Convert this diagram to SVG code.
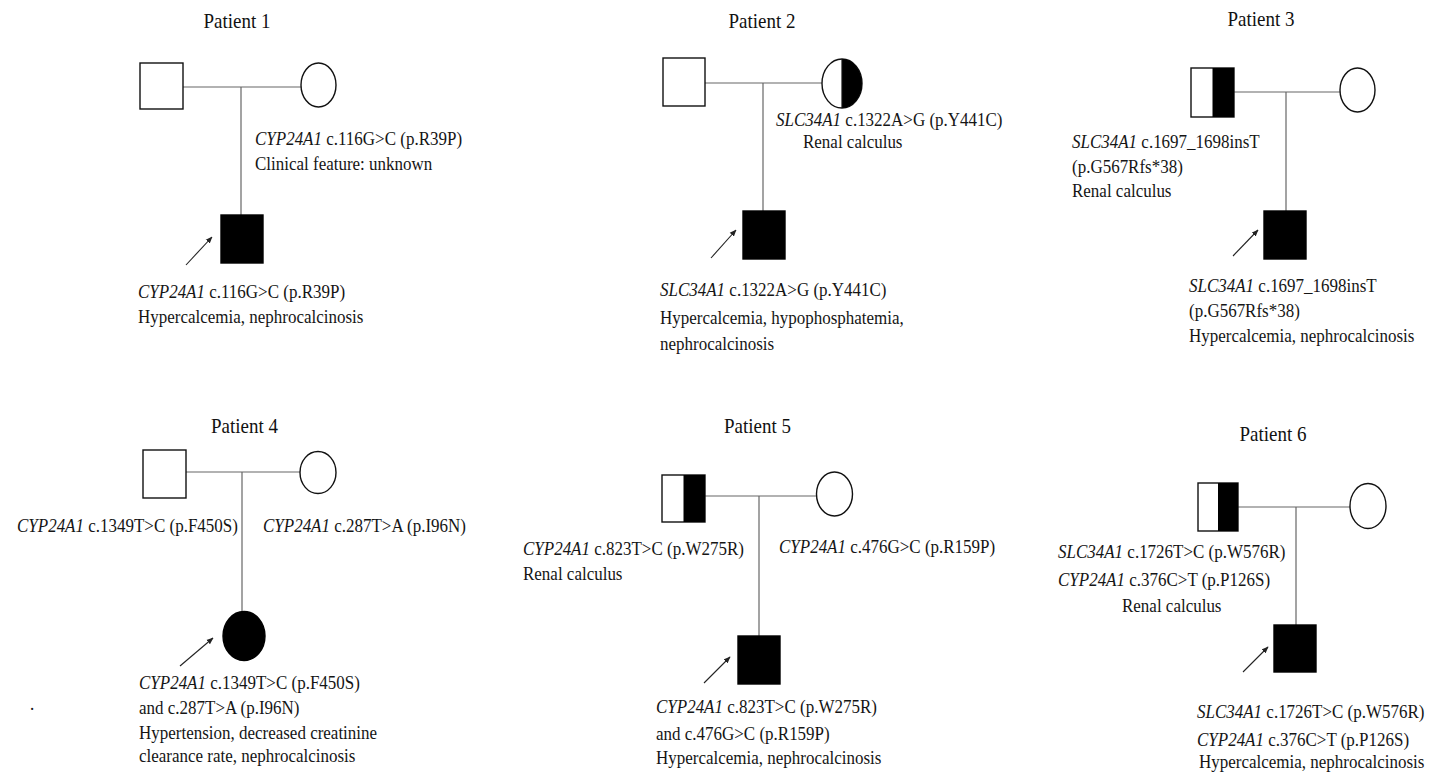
<svg xmlns="http://www.w3.org/2000/svg" width="1440" height="772" viewBox="0 0 1440 772">
  <style>
    .title { font-family: "Liberation Serif", "Times New Roman", serif; font-size: 19px; fill: #111; }
    .t { font-family: "Liberation Serif", "Times New Roman", serif; font-size: 17px; fill: #151515; }
    .gene { font-style: italic; }
    .open { fill: #fff; stroke: #111; stroke-width: 1.4; }
    .fill { fill: #000; stroke: #000; stroke-width: 1.4; }
    .half { fill: #000; stroke: none; }
    .link { stroke: #666; stroke-width: 1.2; fill: none; }
    .arrow { stroke: #222; stroke-width: 1.1; fill: none; marker-end: url(#head); }
  </style>
  <defs>
    <marker id="head" viewBox="0 0 10 10" refX="9" refY="5" markerWidth="7" markerHeight="7" orient="auto" markerUnits="userSpaceOnUse">
      <path d="M0,1 L10,5 L0,9 Z" fill="#222"/>
    </marker>
  </defs>
  <rect width="1440" height="772" fill="#fff"/>

  <!-- connectors: marriage lines, lines of descent, proband arrows -->
  <g id="connectors">
    <line class="link" x1="183" y1="87" x2="301" y2="87"/>
    <line class="link" x1="241" y1="87" x2="241" y2="215"/>
    <line class="arrow" x1="186" y1="265" x2="212" y2="237"/>

    <line class="link" x1="705" y1="83" x2="822" y2="83"/>
    <line class="link" x1="763" y1="83" x2="763" y2="211"/>
    <line class="arrow" x1="711" y1="258" x2="736" y2="230"/>

    <line class="link" x1="1234" y1="92" x2="1340" y2="92"/>
    <line class="link" x1="1286" y1="92" x2="1286" y2="211"/>
    <line class="arrow" x1="1233" y1="256" x2="1258" y2="230"/>

    <line class="link" x1="186" y1="472" x2="300" y2="472"/>
    <line class="link" x1="242" y1="472" x2="242" y2="612"/>
    <line class="arrow" x1="180" y1="666" x2="213" y2="638"/>

    <line class="link" x1="705" y1="496" x2="817" y2="496"/>
    <line class="link" x1="759" y1="496" x2="759" y2="636"/>
    <line class="arrow" x1="704" y1="683" x2="730" y2="657"/>

    <line class="link" x1="1238" y1="507" x2="1350" y2="507"/>
    <line class="link" x1="1296" y1="507" x2="1296" y2="625"/>
    <line class="arrow" x1="1243" y1="672" x2="1268" y2="647"/>
  </g>

  <!-- Patient 1 -->
  <g id="p1-title"><text class="title" text-anchor="middle" transform="translate(237,28) scale(1,1.15)">Patient 1</text></g>
  <g id="p1-father"><rect class="open" x="140" y="63" width="43" height="46"/></g>
  <g id="p1-mother">
    <ellipse class="open" cx="318.5" cy="85" rx="17.5" ry="22"/>
    <text class="t" transform="translate(255,145) scale(1,1.15)"><tspan class="gene">CYP24A1</tspan> c.116G&gt;C (p.R39P)</text>
    <text class="t" transform="translate(255,170) scale(1,1.15)">Clinical feature: unknown</text>
  </g>
  <g id="p1-proband">
    <rect class="fill" x="221" y="215" width="42" height="48"/>
    <text class="t" transform="translate(138,298) scale(1,1.15)"><tspan class="gene">CYP24A1</tspan> c.116G&gt;C (p.R39P)</text>
    <text class="t" transform="translate(138,323) scale(1,1.15)">Hypercalcemia, nephrocalcinosis</text>
  </g>

  <!-- Patient 2 -->
  <g id="p2-title"><text class="title" text-anchor="middle" transform="translate(762,28) scale(1,1.15)">Patient 2</text></g>
  <g id="p2-father"><rect class="open" x="663" y="58" width="42" height="48"/></g>
  <g id="p2-mother">
    <ellipse class="open" cx="842" cy="83.5" rx="20" ry="24.5"/>
    <path class="half" d="M842,59 A20,24.5 0 0 1 842,108 Z"/>
    <line x1="842" y1="59" x2="842" y2="108" stroke="#111" stroke-width="1.2"/>
    <text class="t" transform="translate(776,126) scale(1,1.15)"><tspan class="gene">SLC34A1</tspan> c.1322A&gt;G (p.Y441C)</text>
    <text class="t" transform="translate(803,148) scale(1,1.15)">Renal calculus</text>
  </g>
  <g id="p2-proband">
    <rect class="fill" x="743" y="211" width="42" height="48"/>
    <text class="t" transform="translate(660,296) scale(1,1.15)"><tspan class="gene">SLC34A1</tspan> c.1322A&gt;G (p.Y441C)</text>
    <text class="t" transform="translate(660,324) scale(1,1.15)">Hypercalcemia, hypophosphatemia,</text>
    <text class="t" transform="translate(660,350) scale(1,1.15)">nephrocalcinosis</text>
  </g>

  <!-- Patient 3 -->
  <g id="p3-title"><text class="title" text-anchor="middle" transform="translate(1261,26) scale(1,1.15)">Patient 3</text></g>
  <g id="p3-father">
    <rect class="open" x="1191" y="68" width="43" height="49"/>
    <rect class="half" x="1212.5" y="68" width="21.5" height="49"/>
    <text class="t" transform="translate(1072,148) scale(1,1.15)"><tspan class="gene">SLC34A1</tspan> c.1697_1698insT</text>
    <text class="t" transform="translate(1072,173) scale(1,1.15)">(p.G567Rfs*38)</text>
    <text class="t" transform="translate(1072,197) scale(1,1.15)">Renal calculus</text>
  </g>
  <g id="p3-mother"><ellipse class="open" cx="1357.5" cy="90" rx="17.5" ry="22"/></g>
  <g id="p3-proband">
    <rect class="fill" x="1264" y="211" width="42" height="48"/>
    <text class="t" transform="translate(1189,292) scale(1,1.15)"><tspan class="gene">SLC34A1</tspan> c.1697_1698insT</text>
    <text class="t" transform="translate(1189,317) scale(1,1.15)">(p.G567Rfs*38)</text>
    <text class="t" transform="translate(1189,342) scale(1,1.15)">Hypercalcemia, nephrocalcinosis</text>
  </g>

  <!-- Patient 4 -->
  <g id="p4-title"><text class="title" text-anchor="middle" transform="translate(244.5,433) scale(1,1.15)">Patient 4</text></g>
  <g id="p4-father">
    <rect class="open" x="143" y="450" width="43" height="48"/>
    <text class="t" transform="translate(17,532) scale(1,1.15)"><tspan class="gene">CYP24A1</tspan> c.1349T&gt;C (p.F450S)</text>
  </g>
  <g id="p4-mother">
    <ellipse class="open" cx="318" cy="472.5" rx="18" ry="21"/>
    <text class="t" transform="translate(263,532) scale(1,1.15)"><tspan class="gene">CYP24A1</tspan> c.287T&gt;A (p.I96N)</text>
  </g>
  <g id="p4-proband">
    <ellipse class="fill" cx="244" cy="636" rx="21" ry="24.5"/>
    <text class="t" transform="translate(139,689) scale(1,1.15)"><tspan class="gene">CYP24A1</tspan> c.1349T&gt;C (p.F450S)</text>
    <text class="t" transform="translate(139,714) scale(1,1.15)">and c.287T&gt;A (p.I96N)</text>
    <text class="t" transform="translate(139,739) scale(1,1.15)">Hypertension, decreased creatinine</text>
    <text class="t" transform="translate(139,762) scale(1,1.15)">clearance rate, nephrocalcinosis</text>
  </g>
  <text class="t" transform="translate(30,710) scale(1,1.15)">.</text>

  <!-- Patient 5 -->
  <g id="p5-title"><text class="title" text-anchor="middle" transform="translate(757.5,433) scale(1,1.15)">Patient 5</text></g>
  <g id="p5-father">
    <rect class="open" x="662" y="475" width="43" height="47"/>
    <rect class="half" x="683.5" y="475" width="21.5" height="47"/>
    <text class="t" transform="translate(523,555) scale(1,1.15)"><tspan class="gene">CYP24A1</tspan> c.823T&gt;C (p.W275R)</text>
    <text class="t" transform="translate(523,580) scale(1,1.15)">Renal calculus</text>
  </g>
  <g id="p5-mother">
    <ellipse class="open" cx="834.5" cy="494" rx="18" ry="22"/>
    <text class="t" transform="translate(779,553) scale(1,1.15)"><tspan class="gene">CYP24A1</tspan> c.476G&gt;C (p.R159P)</text>
  </g>
  <g id="p5-proband">
    <rect class="fill" x="738" y="636" width="42" height="48"/>
    <text class="t" transform="translate(656,713) scale(1,1.15)"><tspan class="gene">CYP24A1</tspan> c.823T&gt;C (p.W275R)</text>
    <text class="t" transform="translate(656,740) scale(1,1.15)">and c.476G&gt;C (p.R159P)</text>
    <text class="t" transform="translate(656,764) scale(1,1.15)">Hypercalcemia, nephrocalcinosis</text>
  </g>

  <!-- Patient 6 -->
  <g id="p6-title"><text class="title" text-anchor="middle" transform="translate(1273,441) scale(1,1.15)">Patient 6</text></g>
  <g id="p6-father">
    <rect class="open" x="1198" y="483" width="40" height="48"/>
    <rect class="half" x="1218" y="483" width="20" height="48"/>
    <text class="t" transform="translate(1058,558) scale(1,1.15)"><tspan class="gene">SLC34A1</tspan> c.1726T&gt;C (p.W576R)</text>
    <text class="t" transform="translate(1058,586) scale(1,1.15)"><tspan class="gene">CYP24A1</tspan> c.376C&gt;T (p.P126S)</text>
    <text class="t" transform="translate(1122,612) scale(1,1.15)">Renal calculus</text>
  </g>
  <g id="p6-mother"><ellipse class="open" cx="1368" cy="506" rx="18" ry="22.5"/></g>
  <g id="p6-proband">
    <rect class="fill" x="1274" y="625" width="42" height="47"/>
    <text class="t" transform="translate(1197,718) scale(1,1.15)"><tspan class="gene">SLC34A1</tspan> c.1726T&gt;C (p.W576R)</text>
    <text class="t" transform="translate(1197,746) scale(1,1.15)"><tspan class="gene">CYP24A1</tspan> c.376C&gt;T (p.P126S)</text>
    <text class="t" transform="translate(1199,768) scale(1,1.15)">Hypercalcemia, nephrocalcinosis</text>
  </g>
</svg>
